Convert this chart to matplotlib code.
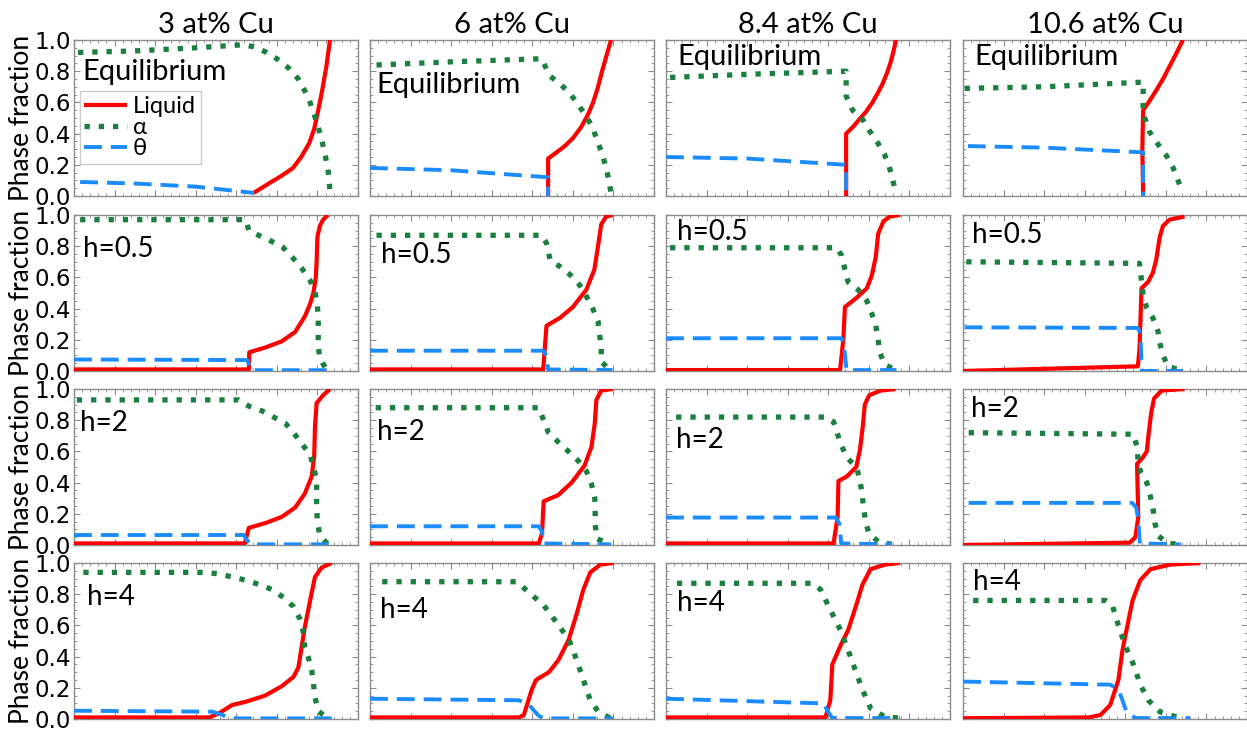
import matplotlib
matplotlib.use("Agg")
import matplotlib.pyplot as plt
from matplotlib.ticker import MultipleLocator

# ---------------- data ----------------
compositions = ["3 at% Cu", "6 at% Cu", "8.4 at% Cu", "10.6 at% Cu"]
conditions = ["Equilibrium", "h=0.5", "h=2", "h=4"]
series_names = ["Liquid", "\u03b1", "\u03b8"]

# Equilibrium row
eq_3_liq = [(4.43, 0.02), (4.8, 0.08), (5.12, 0.13), (5.4, 0.18), (5.6, 0.25), (5.8, 0.34), (5.92, 0.43),
            (6.02, 0.55), (6.12, 0.68), (6.22, 0.83), (6.31, 1.0)]
eq_3_alp = [(0.1, 0.92), (1.5, 0.93), (3.0, 0.95), (4.19, 0.97), (4.45, 0.955), (4.75, 0.92), (5.0, 0.88),
            (5.29, 0.82), (5.53, 0.75), (5.78, 0.63), (5.95, 0.50), (6.1, 0.37), (6.2, 0.25), (6.27, 0.15),
            (6.31, 0.03)]
eq_3_the = [(0.15, 0.09), (1.5, 0.08), (3.0, 0.06), (4.43, 0.02)]

eq_6_liq = [(4.39, 0.0), (4.39, 0.24), (4.6, 0.28), (4.8, 0.32), (5.0, 0.37), (5.2, 0.44), (5.37, 0.52),
            (5.5, 0.60), (5.61, 0.69), (5.72, 0.80), (5.83, 0.90), (5.94, 1.0)]
eq_6_alp = [(0.16, 0.84), (2.0, 0.86), (4.23, 0.88), (4.43, 0.77), (4.68, 0.72), (4.92, 0.66), (5.12, 0.59),
            (5.33, 0.51), (5.49, 0.44), (5.59, 0.36), (5.71, 0.28), (5.81, 0.19), (5.89, 0.10), (5.94, 0.02)]
eq_6_the = [(0.0, 0.18), (2.0, 0.165), (4.39, 0.12), (4.39, 0.0)]

eq_84_liq = [(4.44, 0.0), (4.44, 0.40), (4.6, 0.44), (4.76, 0.49), (4.93, 0.54), (5.09, 0.60), (5.22, 0.66),
             (5.34, 0.72), (5.45, 0.79), (5.54, 0.86), (5.61, 0.93), (5.67, 1.0)]
eq_84_alp = [(0.1, 0.76), (2.0, 0.78), (4.44, 0.80), (4.44, 0.64), (4.6, 0.55), (4.85, 0.49), (5.01, 0.42),
             (5.22, 0.34), (5.38, 0.27), (5.5, 0.19), (5.58, 0.11), (5.67, 0.02)]
eq_84_the = [(0.0, 0.25), (2.0, 0.24), (4.44, 0.20), (4.44, 0.0)]

eq_106_liq = [(4.44, 0.0), (4.42, 0.30), (4.44, 0.55), (4.6, 0.61), (4.77, 0.68), (4.93, 0.75), (5.09, 0.83),
              (5.25, 0.91), (5.42, 1.0)]
eq_106_alp = [(0.04, 0.69), (2.0, 0.70), (4.44, 0.73), (4.44, 0.53), (4.6, 0.41), (4.81, 0.33), (5.01, 0.26),
              (5.18, 0.18), (5.3, 0.10), (5.41, 0.02)]
eq_106_the = [(0.12, 0.32), (2.0, 0.31), (4.44, 0.28), (4.44, 0.0)]

# h = 0.5 row
h05_3_liq = [(0.0, 0.01), (4.31, 0.01), (4.32, 0.12), (4.71, 0.15), (5.12, 0.19), (5.45, 0.25), (5.69, 0.35),
             (5.82, 0.43), (5.9, 0.50), (5.96, 0.60), (5.98, 0.70), (6.0, 0.86), (6.06, 0.93), (6.14, 0.97),
             (6.26, 1.0)]
h05_3_alp = [(0.15, 0.97), (4.23, 0.97), (4.31, 0.90), (4.63, 0.86), (4.88, 0.83), (5.16, 0.79), (5.41, 0.72),
             (5.61, 0.66), (5.82, 0.58), (5.94, 0.51), (6.0, 0.42), (6.02, 0.33), (6.02, 0.24), (6.02, 0.16),
             (6.06, 0.08), (6.22, 0.01)]
h05_3_the = [(0.0, 0.074), (4.27, 0.07), (4.37, 0.005), (6.26, 0.005)]

h05_6_liq = [(0.0, 0.01), (4.27, 0.01), (4.35, 0.29), (4.68, 0.34), (5.0, 0.41), (5.33, 0.52), (5.53, 0.65),
             (5.62, 0.80), (5.7, 0.94), (5.82, 0.99), (5.98, 1.0)]
h05_6_alp = [(0.16, 0.87), (4.23, 0.87), (4.35, 0.82), (4.44, 0.71), (4.68, 0.67), (4.92, 0.62), (5.17, 0.55),
             (5.33, 0.48), (5.49, 0.40), (5.62, 0.32), (5.66, 0.23), (5.7, 0.16), (5.7, 0.06), (5.9, 0.01)]
h05_6_the = [(0.0, 0.13), (4.27, 0.13), (4.35, 0.10), (4.39, 0.01), (5.98, 0.006)]

h05_84_liq = [(0.0, 0.006), (4.29, 0.006), (4.37, 0.20), (4.41, 0.41), (4.7, 0.47), (4.95, 0.53), (5.07, 0.61),
              (5.17, 0.73), (5.23, 0.88), (5.36, 0.96), (5.52, 0.99), (5.77, 1.0)]
h05_84_alp = [(0.1, 0.79), (4.21, 0.79), (4.33, 0.74), (4.41, 0.65), (4.49, 0.57), (4.74, 0.52), (4.95, 0.45),
              (5.07, 0.37), (5.17, 0.29), (5.23, 0.20), (5.27, 0.12), (5.39, 0.04), (5.68, 0.006)]
h05_84_the = [(0.0, 0.21), (4.33, 0.21), (4.39, 0.16), (4.45, 0.006), (5.68, 0.006)]

h05_106_liq = [(0.0, 0.0), (4.31, 0.03), (4.35, 0.14), (4.4, 0.53), (4.56, 0.57), (4.68, 0.63), (4.76, 0.71),
               (4.85, 0.86), (4.93, 0.93), (5.09, 0.97), (5.46, 0.99)]
h05_106_alp = [(0.08, 0.70), (4.35, 0.69), (4.4, 0.58), (4.44, 0.49), (4.52, 0.41), (4.68, 0.34), (4.81, 0.25),
               (4.85, 0.18), (4.93, 0.10), (5.05, 0.03), (5.42, 0.0)]
h05_106_the = [(0.04, 0.28), (4.31, 0.276), (4.37, 0.24), (4.41, 0.0), (5.42, 0.0)]

# h = 2 row
h2_3_liq = [(0.0, 0.01), (4.21, 0.01), (4.31, 0.11), (4.71, 0.14), (5.12, 0.18), (5.45, 0.24), (5.69, 0.33),
            (5.86, 0.44), (5.92, 0.57), (5.94, 0.76), (5.98, 0.91), (6.14, 0.96), (6.31, 1.0)]
h2_3_alp = [(0.07, 0.93), (4.06, 0.93), (4.31, 0.89), (4.63, 0.86), (4.92, 0.82), (5.21, 0.78), (5.41, 0.72),
            (5.61, 0.65), (5.82, 0.58), (5.9, 0.50), (5.98, 0.42), (5.98, 0.33), (5.98, 0.24), (6.0, 0.15),
            (6.06, 0.06), (6.26, 0.004)]
h2_3_the = [(0.0, 0.064), (4.18, 0.064), (4.27, 0.03), (4.35, 0.004), (6.31, 0.004)]

h2_6_liq = [(0.0, 0.01), (4.16, 0.01), (4.24, 0.075), (4.28, 0.28), (4.64, 0.32), (4.97, 0.40), (5.29, 0.51),
            (5.46, 0.63), (5.54, 0.78), (5.58, 0.93), (5.7, 0.99), (5.98, 1.0)]
h2_6_alp = [(0.14, 0.88), (4.16, 0.88), (4.28, 0.80), (4.4, 0.72), (4.64, 0.66), (4.89, 0.60), (5.13, 0.54),
            (5.34, 0.47), (5.46, 0.39), (5.54, 0.30), (5.55, 0.21), (5.55, 0.13), (5.6, 0.04), (5.86, 0.01)]
h2_6_the = [(0.0, 0.12), (4.16, 0.12), (4.24, 0.086), (4.28, 0.01), (5.94, 0.004)]

h2_84_liq = [(0.0, 0.01), (4.13, 0.01), (4.23, 0.18), (4.25, 0.41), (4.46, 0.44), (4.69, 0.50), (4.78, 0.61),
             (4.85, 0.76), (4.9, 0.90), (5.01, 0.96), (5.29, 0.99), (5.66, 1.0)]
h2_84_alp = [(0.25, 0.82), (3.95, 0.82), (4.13, 0.79), (4.23, 0.71), (4.32, 0.64), (4.46, 0.56), (4.69, 0.50),
             (4.78, 0.42), (4.83, 0.33), (4.87, 0.24), (4.92, 0.15), (5.0, 0.075), (5.24, 0.02), (5.57, 0.004)]
h2_84_the = [(0.0, 0.176), (4.18, 0.176), (4.27, 0.14), (4.32, 0.01), (5.57, 0.004)]

h2_106_liq = [(0.0, 0.0), (4.11, 0.015), (4.25, 0.05), (4.32, 0.18), (4.29, 0.52), (4.43, 0.56), (4.53, 0.60),
              (4.57, 0.70), (4.64, 0.85), (4.71, 0.94), (4.9, 0.99), (5.46, 1.0)]
h2_106_alp = [(0.14, 0.72), (4.2, 0.71), (4.29, 0.63), (4.32, 0.52), (4.39, 0.46), (4.53, 0.40), (4.62, 0.31),
              (4.69, 0.22), (4.73, 0.14), (4.81, 0.06), (5.04, 0.01), (5.41, 0.004)]
h2_106_the = [(0.14, 0.27), (4.17, 0.27), (4.27, 0.24), (4.32, 0.16), (4.36, 0.01), (5.37, 0.004)]

# h = 4 row
h4_3_liq = [(0.0, 0.01), (3.33, 0.01), (3.57, 0.036), (3.9, 0.09), (4.23, 0.11), (4.71, 0.15), (5.12, 0.21),
            (5.41, 0.27), (5.53, 0.33), (5.61, 0.46), (5.69, 0.59), (5.82, 0.76), (5.94, 0.91), (6.1, 0.97),
            (6.35, 1.0)]
h4_3_alp = [(0.23, 0.94), (3.25, 0.94), (3.57, 0.93), (3.9, 0.91), (4.23, 0.89), (4.59, 0.86), (4.88, 0.83),
            (5.16, 0.78), (5.41, 0.72), (5.57, 0.64), (5.65, 0.56), (5.69, 0.46), (5.78, 0.39), (5.86, 0.31),
            (5.9, 0.23), (5.94, 0.14), (6.02, 0.05), (6.26, 0.004)]
h4_3_the = [(0.0, 0.053), (3.41, 0.047), (3.66, 0.026), (3.82, 0.004), (6.35, 0.004)]

h4_6_liq = [(0.0, 0.01), (3.67, 0.01), (3.79, 0.025), (3.99, 0.19), (4.09, 0.25), (4.41, 0.30), (4.65, 0.38),
            (4.9, 0.51), (5.09, 0.67), (5.26, 0.83), (5.43, 0.94), (5.68, 0.99), (6.0, 1.0)]
h4_6_alp = [(0.3, 0.88), (3.62, 0.88), (3.92, 0.81), (4.28, 0.73), (4.65, 0.60), (4.9, 0.51), (5.09, 0.38),
            (5.26, 0.25), (5.43, 0.12), (5.63, 0.045), (5.92, 0.006)]
h4_6_the = [(0.0, 0.13), (3.67, 0.12), (3.92, 0.09), (4.16, 0.02), (4.3, 0.004), (6.0, 0.004)]

h4_84_liq = [(0.0, 0.01), (3.93, 0.01), (4.05, 0.12), (4.1, 0.35), (4.3, 0.47), (4.49, 0.57), (4.69, 0.73),
             (4.84, 0.86), (5.04, 0.96), (5.4, 0.99), (5.77, 1.0)]
h4_84_alp = [(0.27, 0.87), (3.61, 0.87), (3.81, 0.83), (4.05, 0.70), (4.3, 0.57), (4.49, 0.44), (4.67, 0.31),
             (4.84, 0.19), (5.04, 0.07), (5.4, 0.013), (5.77, 0.006)]
h4_84_the = [(0.0, 0.13), (3.88, 0.10), (4.0, 0.045), (4.1, 0.006), (5.77, 0.006)]

h4_106_liq = [(0.0, 0.005), (3.1, 0.01), (3.39, 0.026), (3.63, 0.09), (3.83, 0.25), (3.93, 0.44), (4.03, 0.57),
              (4.18, 0.76), (4.37, 0.89), (4.62, 0.96), (5.11, 0.99), (5.85, 1.0)]
h4_106_alp = [(0.25, 0.76), (3.51, 0.76), (3.68, 0.73), (3.83, 0.60), (4.0, 0.47), (4.2, 0.35), (4.37, 0.22),
              (4.57, 0.12), (4.86, 0.045), (5.35, 0.006)]
h4_106_the = [(0.0, 0.24), (3.63, 0.22), (3.83, 0.19), (3.93, 0.12), (4.03, 0.045), (4.25, 0.006), (5.6, 0.006)]

panels = [
    [(eq_3_liq, eq_3_alp, eq_3_the), (eq_6_liq, eq_6_alp, eq_6_the),
     (eq_84_liq, eq_84_alp, eq_84_the), (eq_106_liq, eq_106_alp, eq_106_the)],
    [(h05_3_liq, h05_3_alp, h05_3_the), (h05_6_liq, h05_6_alp, h05_6_the),
     (h05_84_liq, h05_84_alp, h05_84_the), (h05_106_liq, h05_106_alp, h05_106_the)],
    [(h2_3_liq, h2_3_alp, h2_3_the), (h2_6_liq, h2_6_alp, h2_6_the),
     (h2_84_liq, h2_84_alp, h2_84_the), (h2_106_liq, h2_106_alp, h2_106_the)],
    [(h4_3_liq, h4_3_alp, h4_3_the), (h4_6_liq, h4_6_alp, h4_6_the),
     (h4_84_liq, h4_84_alp, h4_84_the), (h4_106_liq, h4_106_alp, h4_106_the)],
]

# ---------------- layout / style ----------------
W, H = 1247, 736
col_left = [74, 370, 666, 963]
row_top = [40, 215, 389, 563]
ax_w, ax_h = 284, 156

# label positions (axes fraction, baseline-left)
label_pos = [
    [(0.028, 0.745), (0.024, 0.66), (0.04, 0.84), (0.04, 0.84)],
    [(0.03, 0.73), (0.04, 0.69), (0.037, 0.84), (0.03, 0.82)],
    [(0.02, 0.73), (0.023, 0.67), (0.036, 0.62), (0.027, 0.82)],
    [(0.047, 0.73), (0.035, 0.65), (0.04, 0.69), (0.035, 0.83)],
]
label_size = [21, 20, 20, 20]

RED = "#ff0000"
GREEN = "#1b7f3f"
BLUE = "#1a8cff"
SPINE = "#8c8c8c"
TXT_FONT = ["Lato", "DejaVu Sans"]

fig = plt.figure(figsize=(W / 100, H / 100), dpi=100)

for r in range(4):
    for c in range(4):
        left = col_left[c] / W
        bottom = 1 - (row_top[r] + ax_h) / H
        ax = fig.add_axes([left, bottom, ax_w / W, ax_h / H])
        liq, alp, the = panels[r][c]
        lx, ly = zip(*liq)
        ax.plot(lx, ly, color=RED, lw=3.0, solid_capstyle="butt", label=series_names[0], zorder=3)
        axx, ayy = zip(*alp)
        ax.plot(axx, ayy, color=GREEN, lw=3.8, linestyle=(0, (1, 1.7)), label=series_names[1], zorder=4)
        tx, ty = zip(*the)
        ax.plot(tx, ty, color=BLUE, lw=2.8, linestyle=(0, (4.6, 2.3)), label=series_names[2], zorder=5)

        ax.set_xlim(0, 7)
        ax.set_ylim(0, 1)
        ax.xaxis.set_major_locator(MultipleLocator(1))
        ax.xaxis.set_minor_locator(MultipleLocator(0.2))
        ax.yaxis.set_major_locator(MultipleLocator(0.2))
        ax.yaxis.set_minor_locator(MultipleLocator(0.05))
        ax.tick_params(which="both", direction="in", top=True, right=True, color=SPINE)
        ax.tick_params(which="major", length=4, width=0.8)
        ax.tick_params(which="minor", length=2, width=0.6)
        ax.set_xticklabels([])
        for sp in ax.spines.values():
            sp.set_color(SPINE)
            sp.set_linewidth(1.0)
        if c == 0:
            ax.tick_params(axis="y", labelsize=16.5, pad=2)
            ax.set_ylabel("Phase fraction", fontsize=19, family=TXT_FONT)
            ax.yaxis.set_label_coords(-0.14, 0.5)
        else:
            ax.set_yticklabels([])
        if r == 0:
            ax.set_title(compositions[c], fontsize=21, family=TXT_FONT, pad=5)
        px, py = label_pos[r][c]
        ax.text(px, py, conditions[r], transform=ax.transAxes, fontsize=label_size[r],
                family=TXT_FONT, ha="left", va="baseline", zorder=6)
        if r == 0 and c == 0:
            ax.legend(loc="upper left", bbox_to_anchor=(0.02, 0.67),
                      prop={"family": TXT_FONT, "size": 17},
                      handlelength=1.8, handletextpad=0.25, labelspacing=0.0,
                      borderpad=0.2, borderaxespad=0.0, frameon=True, fancybox=False,
                      edgecolor="#cccccc", framealpha=1.0)

fig.savefig("out.png", dpi=100)
